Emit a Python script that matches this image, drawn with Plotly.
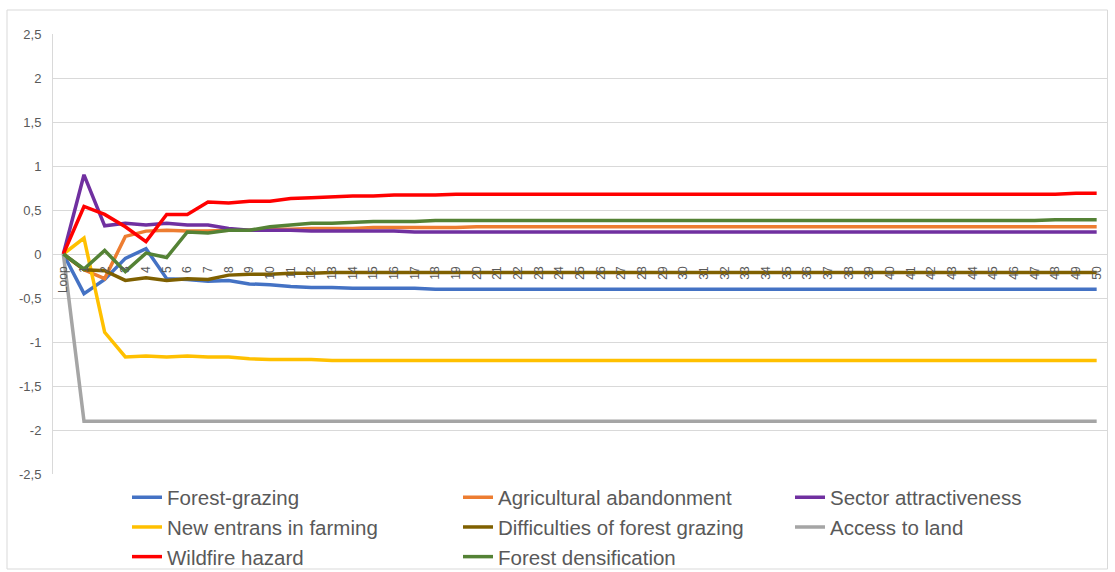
import plotly.graph_objects as go

# Category axis: initial state followed by iterations 1..50
categories = ["Loop"] + [str(i) for i in range(1, 51)]

forest_grazing = [
    0.00, -0.45, -0.29, -0.05, 0.06, -0.28, -0.29, -0.31, -0.30, -0.34,
    -0.35, -0.37, -0.38, -0.38, -0.39, -0.39, -0.39, -0.39, -0.40, -0.40,
    -0.40, -0.40, -0.40, -0.40, -0.40, -0.40, -0.40, -0.40, -0.40, -0.40,
    -0.40, -0.40, -0.40, -0.40, -0.40, -0.40, -0.40, -0.40, -0.40, -0.40,
    -0.40, -0.40, -0.40, -0.40, -0.40, -0.40, -0.40, -0.40, -0.40, -0.40,
    -0.40,
]
agricultural_abandonment = [
    0.00, -0.18, -0.28, 0.20, 0.26, 0.27, 0.26, 0.26, 0.27, 0.27,
    0.28, 0.28, 0.29, 0.29, 0.29, 0.30, 0.30, 0.30, 0.30, 0.30,
    0.31, 0.31, 0.31, 0.31, 0.31, 0.31, 0.31, 0.31, 0.31, 0.31,
    0.31, 0.31, 0.31, 0.31, 0.31, 0.31, 0.31, 0.31, 0.31, 0.31,
    0.31, 0.31, 0.31, 0.31, 0.31, 0.31, 0.31, 0.31, 0.31, 0.31,
    0.31,
]
sector_attractiveness = [
    0.00, 0.90, 0.32, 0.35, 0.33, 0.35, 0.33, 0.33, 0.29, 0.27,
    0.27, 0.27, 0.26, 0.26, 0.26, 0.26, 0.26, 0.25, 0.25, 0.25,
    0.25, 0.25, 0.25, 0.25, 0.25, 0.25, 0.25, 0.25, 0.25, 0.25,
    0.25, 0.25, 0.25, 0.25, 0.25, 0.25, 0.25, 0.25, 0.25, 0.25,
    0.25, 0.25, 0.25, 0.25, 0.25, 0.25, 0.25, 0.25, 0.25, 0.25,
    0.25,
]
new_entrants = [
    0.00, 0.18, -0.89, -1.17, -1.16, -1.17, -1.16, -1.17, -1.17, -1.19,
    -1.20, -1.20, -1.20, -1.21, -1.21, -1.21, -1.21, -1.21, -1.21, -1.21,
    -1.21, -1.21, -1.21, -1.21, -1.21, -1.21, -1.21, -1.21, -1.21, -1.21,
    -1.21, -1.21, -1.21, -1.21, -1.21, -1.21, -1.21, -1.21, -1.21, -1.21,
    -1.21, -1.21, -1.21, -1.21, -1.21, -1.21, -1.21, -1.21, -1.21, -1.21,
    -1.21,
]
grazing_difficulties = [
    0.00, -0.18, -0.19, -0.30, -0.27, -0.30, -0.28, -0.29, -0.24, -0.23,
    -0.23, -0.22, -0.22, -0.21, -0.21, -0.21, -0.21, -0.21, -0.21, -0.21,
    -0.21, -0.21, -0.21, -0.21, -0.21, -0.21, -0.21, -0.21, -0.21, -0.21,
    -0.21, -0.21, -0.21, -0.21, -0.21, -0.21, -0.21, -0.21, -0.21, -0.21,
    -0.21, -0.21, -0.21, -0.21, -0.21, -0.21, -0.21, -0.21, -0.21, -0.21,
    -0.21,
]
access_to_land = [
    0.00, -1.90, -1.90, -1.90, -1.90, -1.90, -1.90, -1.90, -1.90, -1.90,
    -1.90, -1.90, -1.90, -1.90, -1.90, -1.90, -1.90, -1.90, -1.90, -1.90,
    -1.90, -1.90, -1.90, -1.90, -1.90, -1.90, -1.90, -1.90, -1.90, -1.90,
    -1.90, -1.90, -1.90, -1.90, -1.90, -1.90, -1.90, -1.90, -1.90, -1.90,
    -1.90, -1.90, -1.90, -1.90, -1.90, -1.90, -1.90, -1.90, -1.90, -1.90,
    -1.90,
]
wildfire_hazard = [
    0.00, 0.54, 0.45, 0.31, 0.14, 0.45, 0.45, 0.59, 0.58, 0.60,
    0.60, 0.63, 0.64, 0.65, 0.66, 0.66, 0.67, 0.67, 0.67, 0.68,
    0.68, 0.68, 0.68, 0.68, 0.68, 0.68, 0.68, 0.68, 0.68, 0.68,
    0.68, 0.68, 0.68, 0.68, 0.68, 0.68, 0.68, 0.68, 0.68, 0.68,
    0.68, 0.68, 0.68, 0.68, 0.68, 0.68, 0.68, 0.68, 0.68, 0.69,
    0.69,
]
forest_densification = [
    0.00, -0.17, 0.04, -0.20, 0.01, -0.04, 0.25, 0.24, 0.27, 0.27,
    0.31, 0.33, 0.35, 0.35, 0.36, 0.37, 0.37, 0.37, 0.38, 0.38,
    0.38, 0.38, 0.38, 0.38, 0.38, 0.38, 0.38, 0.38, 0.38, 0.38,
    0.38, 0.38, 0.38, 0.38, 0.38, 0.38, 0.38, 0.38, 0.38, 0.38,
    0.38, 0.38, 0.38, 0.38, 0.38, 0.38, 0.38, 0.38, 0.39, 0.39,
    0.39,
]

y_tickvals = [2.5, 2, 1.5, 1, 0.5, 0, -0.5, -1, -1.5, -2, -2.5]
y_ticktext = ["2,5", "2", "1,5", "1", "0,5", "0", "-0,5", "-1", "-1,5", "-2", "-2,5"]

# (name, values, colour, legend column)
series = [
    ("Forest-grazing", forest_grazing, "#4472C4", "legend"),
    ("Agricultural abandonment", agricultural_abandonment, "#ED7D31", "legend2"),
    ("Sector attractiveness", sector_attractiveness, "#7030A0", "legend3"),
    ("New entrans in farming", new_entrants, "#FFC000", "legend"),
    ("Difficulties of forest grazing", grazing_difficulties, "#7F6000", "legend2"),
    ("Access to land", access_to_land, "#A5A5A5", "legend3"),
    ("Wildfire hazard", wildfire_hazard, "#FF0000", "legend"),
    ("Forest densification", forest_densification, "#548235", "legend2"),
]

W, H = 1115, 572
ML, MR, MT, MB = 53, 8, 34, 3
PW, PH = W - ML - MR, H - MT - MB
PLOT_BOTTOM = 474                      # pixel row of the y = -2.5 gridline
dom_lo = (H - MB - PLOT_BOTTOM) / PH   # y-axis domain start within the paper


def px_x(p):
    return (p - ML) / PW


def px_y(p):
    return (H - MB - p) / PH


fig = go.Figure()
for name, values, color, leg in series:
    fig.add_trace(go.Scatter(
        x=categories, y=values, name=name, mode="lines",
        line=dict(color=color, width=3.5), legend=leg,
    ))

text_grey = "#595959"
grid_grey = "#D9D9D9"


def legend_box(left_px):
    return dict(
        orientation="v",
        x=px_x(left_px), xanchor="left",
        y=px_y(477.5), yanchor="top",
        font=dict(size=20.5, color=text_grey),
        bgcolor="rgba(0,0,0,0)",
        traceorder="normal",
        tracegroupgap=0,
    )


fig.update_layout(
    width=W, height=H,
    margin=dict(l=ML, r=MR, t=MT, b=MB, autoexpand=False),
    paper_bgcolor="white", plot_bgcolor="white",
    font=dict(family="Liberation Sans, Arial, sans-serif", color=text_grey),
    showlegend=True,
    legend=legend_box(127),
    legend2=legend_box(458),
    legend3=legend_box(790),
    xaxis=dict(
        type="category",
        range=[-0.5, len(categories) - 0.5],
        anchor="free", position=(dom_lo + 1) / 2,
        showgrid=False, zeroline=False, showline=False,
        ticks="", tickangle=-90,
        tickfont=dict(size=12, color=text_grey),
        ticklabelstandoff=9,
    ),
    yaxis=dict(
        domain=[dom_lo, 1],
        range=[-2.5, 2.5],
        tickvals=y_tickvals, ticktext=y_ticktext,
        showgrid=True, gridcolor=grid_grey, gridwidth=1,
        zeroline=False,
        showline=True, linecolor=grid_grey, linewidth=1,
        ticks="", tickfont=dict(size=13, color=text_grey),
        ticklabelstandoff=8,
    ),
)

# Outer chart frame
fig.add_shape(
    type="rect", xref="paper", yref="paper",
    x0=px_x(7), x1=px_x(1107.5),
    y0=px_y(569), y1=px_y(10),
    line=dict(color=grid_grey, width=1), fillcolor="rgba(0,0,0,0)",
    layer="below",
)

fig.write_html("out.html")
